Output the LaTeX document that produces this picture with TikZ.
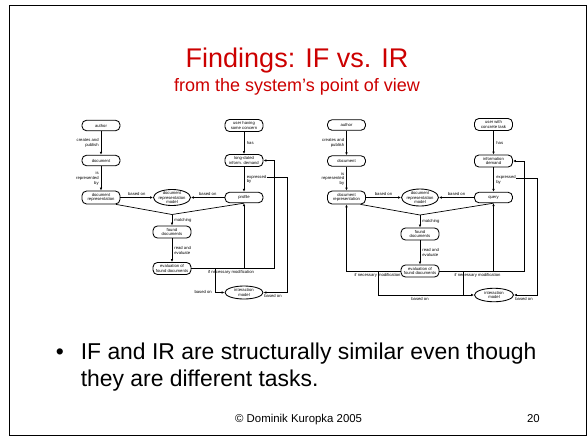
\documentclass[tikz,border=0pt]{standalone}
\usepackage{fontspec}
\setmainfont{Liberation Sans}
\usetikzlibrary{shapes.geometric,arrows.meta,calc}
\definecolor{titlered}{RGB}{204,0,0}
\newcommand{\dfont}{\fontsize{4.2}{4.6}\selectfont}
\begin{document}
\begin{tikzpicture}[x=1pt,y=-1pt,
  box/.style={draw, line width=0.85pt, rounded corners=4.5pt, minimum width=38pt, minimum height=10.5pt, inner xsep=1pt, inner ysep=2.2pt, align=center, font=\dfont},
  ellbox/.style={draw, ellipse, line width=0.85pt, minimum width=37pt, minimum height=16pt, inner sep=0pt},
  lbl/.style={font=\dfont, inner sep=0pt},
  arr/.style={line width=0.7pt, -{Latex[length=3pt,width=2.6pt]}},
  ln/.style={line width=0.7pt},
]
\useasboundingbox (0,0) rectangle (588,437);
\draw[line width=1.5pt] (9.5,5.5) rectangle (586.5,435.5);

% titles
\node[anchor=base, inner sep=0pt, text=titlered, font=\fontsize{27}{28}\selectfont] (title) at (297,67) {Findings: IF vs. IR};
\node[anchor=base, inner sep=0pt, text=titlered, font=\fontsize{18}{19}\selectfont] (subtitle) at (297,91) {from the system’s point of view};

% ---------- left diagram ----------
\node[box] (la) at (101,125.5) {author};
\node[box] (ld) at (101,160.5) {document};
\node[box] (lr) at (101,197.5) {document\\representation};
\node[ellbox, label={[lbl,align=center]center:document\\representation\\model}] (lm) at (172,197.5) {};
\node[box] (lu) at (244,125.5) {user having\\some concern};
\node[box] (lq) at (244,160.5) {long-dated\\inform. demand};
\node[box] (lp) at (244,197.5) {profile};
\node[box] (lf) at (172,232) {found\\documents};
\node[box] (le) at (172,268.5) {evaluation of\\found documents};
\node[ellbox, minimum width=38pt, minimum height=13pt, label={[lbl,align=center]center:interaction\\model}] (li) at (244,292.5) {};

\draw[arr] (la) -- (ld) node[midway, lbl, anchor=east, align=right, xshift=-2pt] {creates and\\publish};
\draw[arr] (ld) -- (lr) node[midway, lbl, anchor=east, align=right, xshift=-2pt] {is\\represented\\by};
\draw[arr] (lr) -- (lm) node[midway, lbl, anchor=south, yshift=1.5pt] {based on};
\draw[arr] (lp) -- (lm) node[midway, lbl, anchor=south, yshift=1.5pt] {based on};
\draw[arr] (lu) -- (lq) node[midway, lbl, anchor=west, xshift=2.5pt] {has};
\draw[arr] (lq) -- (lp) node[midway, lbl, anchor=west, align=left, xshift=2.5pt] (lex) {expressed\\by};
\coordinate (lj) at (172,214.5);
\draw[ln] ($(lr.south)+(15,0)$) -- (lj) -- (lp.south);
\draw[arr] (lj) -- (lf) node[midway, lbl, anchor=west, xshift=2pt] {matching};
\draw[arr] (lf) -- (le) node[midway, lbl, anchor=west, align=left, xshift=2pt] {read and\\evaluate};
\draw[arr] (le.east) -- (274,268.5) |- (lq.east);
\draw[arr] (le.east -| lp.south) -- (lp.south);
\node[lbl, anchor=north] (lmod) at (231,270.3) {if necessary modification};
\coordinate (lb1) at (215,268.5);
\draw[arr] (lb1) |- (li.west);
\node[lbl, anchor=east] (lbo1) at (212,291.5) {based on};
\coordinate (lx) at (266.5,177.7);
\draw[arr] (lx) -- (287,177.7) |- (li.east);
\node[lbl, anchor=north] (lbo2) at (273,294.3) {based on};

% ---------- right diagram ----------
\node[box] (ra) at (346.5,125) {author};
\node[box] (rd) at (346.5,161) {document};
\node[box] (rr) at (346.5,197.5) {document\\representation};
\node[ellbox, minimum height=17pt, label={[lbl,align=center]center:document\\representation\\model}] (rm) at (420,197.5) {};
\node[box] (ru) at (493.5,124.5) {user with\\concrete task};
\node[box] (rq) at (493.5,161) {information\\demand};
\node[box] (rp) at (493.5,197.5) {query};
\node[box] (rf) at (420,234) {found\\documents};
\node[box] (re) at (420,271) {evaluation of\\found documents};
\node[ellbox, minimum width=39pt, minimum height=13.5pt, label={[lbl,align=center]center:interaction\\model}] (ri) at (494,295) {};

\draw[arr] (ra) -- (rd) node[midway, lbl, anchor=east, align=right, xshift=-2pt] {creates and\\publish};
\draw[arr] (rd) -- (rr) node[midway, lbl, anchor=east, align=right, xshift=-2pt] {is\\represented\\by};
\draw[arr] (rr) -- (rm) node[midway, lbl, anchor=south, yshift=1.5pt] {based on};
\draw[arr] (rp) -- (rm) node[midway, lbl, anchor=south, yshift=1.5pt] {based on};
\draw[arr] (ru) -- (rq) node[midway, lbl, anchor=west, xshift=2.5pt] {has};
\draw[arr] (rq) -- (rp) node[midway, lbl, anchor=west, align=left, xshift=2.5pt] (rex) {expressed\\by};
\coordinate (rj) at (420,215);
\draw[ln] ($(rr.south)+(14,0)$) -- (rj) -- (rp.south);
\draw[arr] (rj) -- (rf) node[midway, lbl, anchor=west, xshift=2pt] {matching};
\draw[arr] (rf) -- (re) node[midway, lbl, anchor=west, align=left, xshift=2pt] {read and\\evaluate};
\draw[arr] (re.east) -- (524,271) |- (rq.east);
\draw[arr] (re.east -| rp.south) -- (rp.south);
\draw[arr] (re.west) -| (rr.south);
\node[lbl, anchor=north] (rmod1) at (377.5,272.8) {if necessary modification};
\node[lbl, anchor=north] (rmod2) at (477.5,272.8) {if necessary modification};
\coordinate (rb1) at (378,271);
\coordinate (rb2) at (463,271);
\draw[arr] (rb1) |- (ri.west);
\draw[ln] (rb2) -- (rb2 |- ri.west);
\node[lbl, anchor=north] (rbo1) at (420,296.8) {based on};
\coordinate (rx) at (516,178.5);
\draw[arr] (rx) -- (537,178.5) |- (ri.east);
\node[lbl, anchor=north] (rbo2) at (524,296.8) {based on};

% ---------- bullet text ----------
\node[anchor=base, inner sep=0pt, font=\fontsize{22.9}{24}\selectfont] (bul) at (60,359) {•};
\node[anchor=base west, inner sep=0pt, font=\fontsize{22.9}{24}\selectfont] (b1) at (80.6,359) {IF and IR are structurally similar even though};
\node[anchor=base west, inner sep=0pt, font=\fontsize{22.9}{24}\selectfont] (b2) at (80.6,386) {they are different tasks.};

% footer
\node[anchor=base, inner sep=0pt, font=\fontsize{11.4}{12}\selectfont] (foot) at (298.6,422) {© Dominik Kuropka 2005};
\node[anchor=base east, inner sep=0pt, font=\fontsize{11.4}{12}\selectfont] (pg) at (540,422) {20};
\end{tikzpicture}
\end{document}
